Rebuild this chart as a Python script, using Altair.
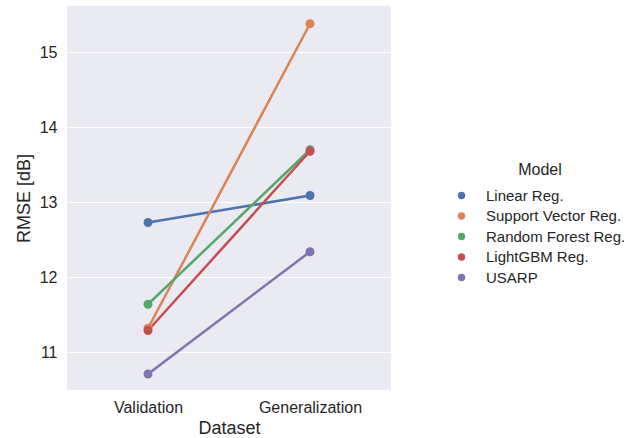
import altair as alt
import pandas as pd

models = ["Linear Reg.", "Support Vector Reg.", "Random Forest Reg.", "LightGBM Reg.", "USARP"]
datasets = ["Validation", "Generalization"]
validation_rmse = [12.73, 11.32, 11.64, 11.29, 10.71]
generalization_rmse = [13.09, 15.38, 13.70, 13.68, 12.34]
colors = ["#4c72b0", "#dd8452", "#55a868", "#c44e52", "#8172b3"]
y_ticks = [11, 12, 13, 14, 15]

rows = []
for m, v, g in zip(models, validation_rmse, generalization_rmse):
    rows.append({"Model": m, "Dataset": datasets[0], "RMSE": v})
    rows.append({"Model": m, "Dataset": datasets[1], "RMSE": g})
df = pd.DataFrame(rows)

FONT = "Liberation Sans"
TXT = "#262626"

x = alt.X("Dataset:N", sort=datasets, scale=alt.Scale(type="point", padding=0.5),
          axis=alt.Axis(title="Dataset", labelAngle=0, domain=False, ticks=False,
                        grid=False, labelPadding=9, titlePadding=4))
y = alt.Y("RMSE:Q", scale=alt.Scale(domain=[10.497, 15.617], nice=False, zero=False),
          axis=alt.Axis(title="RMSE [dB]", values=y_ticks, domain=False, ticks=False,
                        grid=True, gridColor="white", gridWidth=1.2,
                        labelPadding=10, titlePadding=6))

legend = alt.Legend(title="Model", orient="none", legendX=387, legendY=156,
                    symbolType="circle", symbolSize=55, symbolStrokeWidth=0,
                    labelOffset=17, rowPadding=4.5, titlePadding=10,
                    titleAnchor="middle", padding=0)
color = alt.Color("Model:N", sort=models, scale=alt.Scale(domain=models, range=colors),
                  legend=legend)

lines = alt.Chart(df).mark_line(strokeWidth=2.5).encode(
    x=x, y=y, color=color, detail="Model:N")

points = alt.Chart(df).mark_circle(size=80, opacity=1).encode(
    x=x, y=y, color=color)

chart = (lines + points).properties(
    width=324, height=384,
    autosize=alt.AutoSizeParams(type="none"),
    padding={"left": 67, "top": 6, "right": 251, "bottom": 48},
    background="white",
).configure_view(fill="#eaeaf2", stroke=None).configure_axis(
    labelFont=FONT, titleFont=FONT, labelFontSize=16, titleFontSize=18,
    labelColor=TXT, titleColor=TXT, titleFontWeight="normal"
).configure_legend(
    labelFont=FONT, titleFont=FONT, labelFontSize=15, titleFontSize=16,
    labelColor=TXT, titleColor=TXT, titleFontWeight="normal"
)

chart.save("out.html", embed_options={"renderer": "svg", "actions": False})
